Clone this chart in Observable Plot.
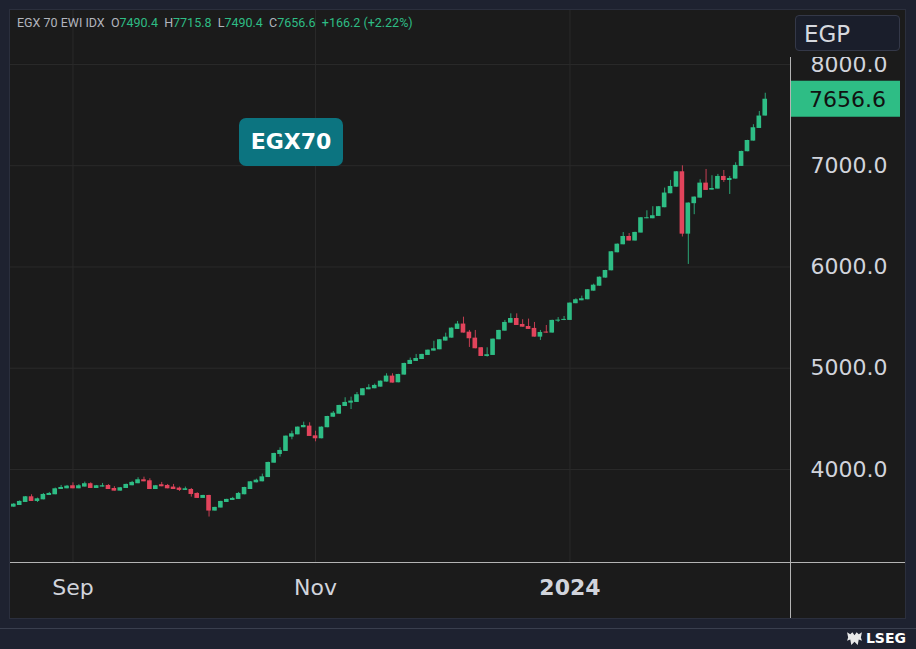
<!DOCTYPE html>
<html><head><meta charset="utf-8">
<script src="https://cdn.jsdelivr.net/npm/d3@7"></script>
<script src="https://cdn.jsdelivr.net/npm/@observablehq/plot@0.6"></script>
<style>
html,body{margin:0;padding:0;width:916px;height:649px;overflow:hidden;background:#1e2230;position:relative;font-family:"DejaVu Sans",sans-serif;}
#panel{position:absolute;left:9px;top:9px;width:895px;height:608px;background:#1b1b1b;border:1px solid #2b2f3d;}
#chart{position:absolute;left:10px;top:10px;}
#header{position:absolute;left:17px;top:15px;font-family:Roboto,sans-serif;font-size:12.5px;color:#b2b5be;white-space:pre;}
#header .g{color:#2ebd85;}
#tag{position:absolute;left:239px;top:118px;width:104px;height:48px;background:#0c7480;border-radius:7px;color:#fff;font-weight:bold;font-size:22px;line-height:48px;text-align:center;}
#cur{position:absolute;left:795px;top:15px;width:105px;height:36px;background:#1a1e2b;border:1px solid #343848;border-radius:4px;color:#d6d8de;font-size:23px;line-height:36px;padding-left:8px;box-sizing:border-box;}
#foot{position:absolute;left:0;top:628px;width:916px;height:1px;background:#3a3f4e;}
#lseg{position:absolute;right:10px;top:630px;color:#fff;font-size:14px;font-weight:bold;display:flex;align-items:center;gap:3px;}
</style></head>
<body>
<div id="panel"></div>
<div id="chart"></div>
<div id="header">EGX 70 EWI IDX  O<span class="g">7490.4</span>  H<span class="g">7715.8</span>  L<span class="g">7490.4</span>  C<span class="g">7656.6</span>  <span class="g">+166.2 (+2.22%)</span></div>
<div id="tag">EGX70</div>
<div id="cur">EGP</div>
<div id="foot"></div>
<div id="lseg"><svg width="17" height="15" viewBox="0 0 16 14"><path d="M1 1 L4 3 L6 1 L8 4 L10 1 L12 3 L15 1 L14 6 L15 9 L12 8 L11 13 L8 10 L5 13 L4 8 L1 9 L2 6 Z" fill="#e8e8e8"/></svg><span>LSEG</span></div>
<script>
const open = [3628,3644,3674,3730,3684,3700,3743,3750,3802,3809,3839,3809,3826,3859,3812,3826,3842,3812,3786,3812,3839,3859,3898,3888,3802,3849,3842,3826,3816,3793,3802,3763,3714,3743,3589,3619,3674,3694,3704,3750,3802,3868,3878,3920,4062,4148,4178,4319,4342,4412,4428,4332,4303,4412,4516,4546,4622,4655,4662,4728,4787,4797,4813,4863,4922,4856,4932,5037,5067,5086,5126,5169,5182,5268,5297,5383,5436,5356,5297,5202,5116,5126,5281,5366,5445,5491,5432,5412,5393,5307,5353,5347,5465,5472,5472,5637,5666,5676,5761,5810,5890,5962,6140,6219,6301,6256,6335,6476,6476,6499,6585,6723,6788,6940,6324,6625,6680,6828,6759,6769,6894,6854,6868,6993,7138,7243,7368,7490.4];
const high = [3664,3690,3733,3750,3717,3763,3773,3816,3842,3842,3868,3850,3875,3868,3842,3862,3850,3830,3822,3855,3882,3918,3924,3908,3842,3872,3852,3852,3826,3826,3812,3770,3745,3745,3627,3686,3706,3724,3773,3824,3880,3904,3954,4072,4160,4214,4331,4378,4420,4467,4461,4378,4420,4525,4572,4634,4708,4714,4760,4799,4837,4843,4874,4945,4945,4940,5049,5100,5136,5138,5180,5266,5283,5346,5398,5462,5504,5373,5373,5204,5202,5289,5375,5472,5537,5537,5479,5485,5452,5373,5422,5474,5500,5511,5645,5686,5712,5777,5830,5901,5967,6152,6227,6340,6330,6343,6488,6555,6595,6597,6779,6855,6942,6999,6633,6692,6861,6963,6901,6914,6953,6894,7029,7143,7251,7405,7536,7715.8];
const low = [3625,3644,3674,3684,3674,3700,3743,3750,3802,3809,3809,3809,3826,3812,3812,3826,3802,3786,3786,3812,3839,3859,3878,3802,3802,3829,3809,3802,3783,3793,3727,3714,3714,3530,3589,3619,3674,3694,3704,3750,3802,3868,3878,3920,4062,4122,4178,4293,4342,4412,4326,4273,4303,4412,4516,4546,4622,4592,4662,4728,4787,4797,4813,4863,4853,4856,4932,5037,5067,5086,5126,5169,5182,5268,5297,5383,5347,5205,5192,5116,5110,5126,5281,5366,5445,5422,5405,5383,5307,5274,5345,5347,5452,5470,5472,5637,5666,5676,5761,5810,5890,5962,6140,6219,6256,6256,6335,6476,6476,6499,6585,6723,6788,6296,6025,6516,6680,6756,6759,6769,6835,6716,6868,6993,7138,7243,7368,7490.4];
const close = [3657,3684,3730,3684,3710,3753,3763,3809,3822,3835,3809,3839,3859,3812,3839,3839,3802,3786,3819,3852,3872,3898,3878,3802,3839,3829,3809,3802,3793,3809,3753,3714,3743,3589,3625,3684,3704,3714,3763,3822,3878,3894,3927,4069,4158,4188,4329,4352,4418,4434,4326,4303,4418,4523,4556,4632,4662,4675,4738,4797,4807,4830,4872,4922,4853,4938,5047,5077,5096,5136,5178,5192,5281,5307,5396,5436,5347,5291,5192,5116,5133,5287,5373,5452,5491,5422,5405,5383,5307,5353,5347,5472,5472,5482,5643,5676,5686,5775,5820,5899,5965,6150,6225,6301,6256,6341,6486,6486,6506,6595,6730,6795,6940,6324,6631,6690,6828,6756,6775,6894,6854,6874,7003,7141,7249,7375,7490.4,7656.6];
const yTicks = [4000, 5000, 6000, 7000, 8000];
const xTickIndex = [10, 51, 94];
const xTickLabels = ["Sep", "Nov", "2024"];
const lastPrice = 7656.6;

const UP = "#2ebd85", DOWN = "#e2445c";
const candles = open.map((o, i) => ({i, open: o, high: high[i], low: low[i], close: close[i]}));
const col = d => d.close >= d.open ? UP : DOWN;
const bodyLo = d => Math.min(d.open, d.close);
const bodyHi = d => Math.max(d.open, d.close, Math.min(d.open, d.close) + 10);

const plot = Plot.plot({
  width: 895, height: 608,
  marginLeft: 0, marginRight: 115, marginTop: 0, marginBottom: 56,
  style: {background: "transparent", color: "#d1d4dc", fontFamily: "DejaVu Sans, sans-serif"},
  x: {domain: [-0.558, 131.27]},
  y: {domain: [3081, 8533]},
  marks: [
    Plot.ruleY(yTicks, {stroke: "#2a2a2a", strokeWidth: 1}),
    Plot.ruleX(xTickIndex, {stroke: "#2a2a2a", strokeWidth: 1}),
    Plot.ruleX(candles, {x: "i", y1: "low", y2: "high", stroke: col, strokeWidth: 1, strokeOpacity: 0.85}),
    Plot.rect(candles, {x1: d => d.i - 0.39, x2: d => d.i + 0.39, y1: bodyLo, y2: bodyHi, fill: col}),
    Plot.axisY(yTicks, {anchor: "right", label: null, tickSize: 0, tickPadding: 20, tickFormat: d => d.toFixed(1), fontSize: 22, textAnchor: "start"}),
    Plot.axisX(xTickIndex, {anchor: "bottom", label: null, tickSize: 0, tickPadding: 17, tickFormat: d => xTickLabels[xTickIndex.indexOf(d)], fontSize: 22})
  ]
});
document.getElementById("chart").appendChild(plot);

const svg = d3.select(plot);
svg.selectAll("text").filter(function(){ return this.textContent === "2024"; }).attr("font-weight", "bold");
const ys = plot.scale("y");
const yl = ys.apply(lastPrice);
// cover for the top of the price axis
svg.append("rect").attr("x", 781).attr("y", 0).attr("width", 114).attr("height", 47).attr("fill", "#1b1b1b");
// frame lines
svg.append("line").attr("x1", 0).attr("x2", 895).attr("y1", 552.5).attr("y2", 552.5).attr("stroke", "#b4b4b4");
svg.append("line").attr("x1", 780.5).attr("x2", 780.5).attr("y1", 47).attr("y2", 608).attr("stroke", "#b4b4b4");
// last price tag
svg.append("rect").attr("x", 781).attr("y", yl - 18).attr("width", 109).attr("height", 36).attr("fill", UP);
svg.append("text").attr("x", 799).attr("y", yl).attr("dy", "0.36em").attr("text-anchor", "start").attr("font-size", 22).attr("fill", "#111").text(lastPrice.toFixed(1));
</script>
</body></html>
